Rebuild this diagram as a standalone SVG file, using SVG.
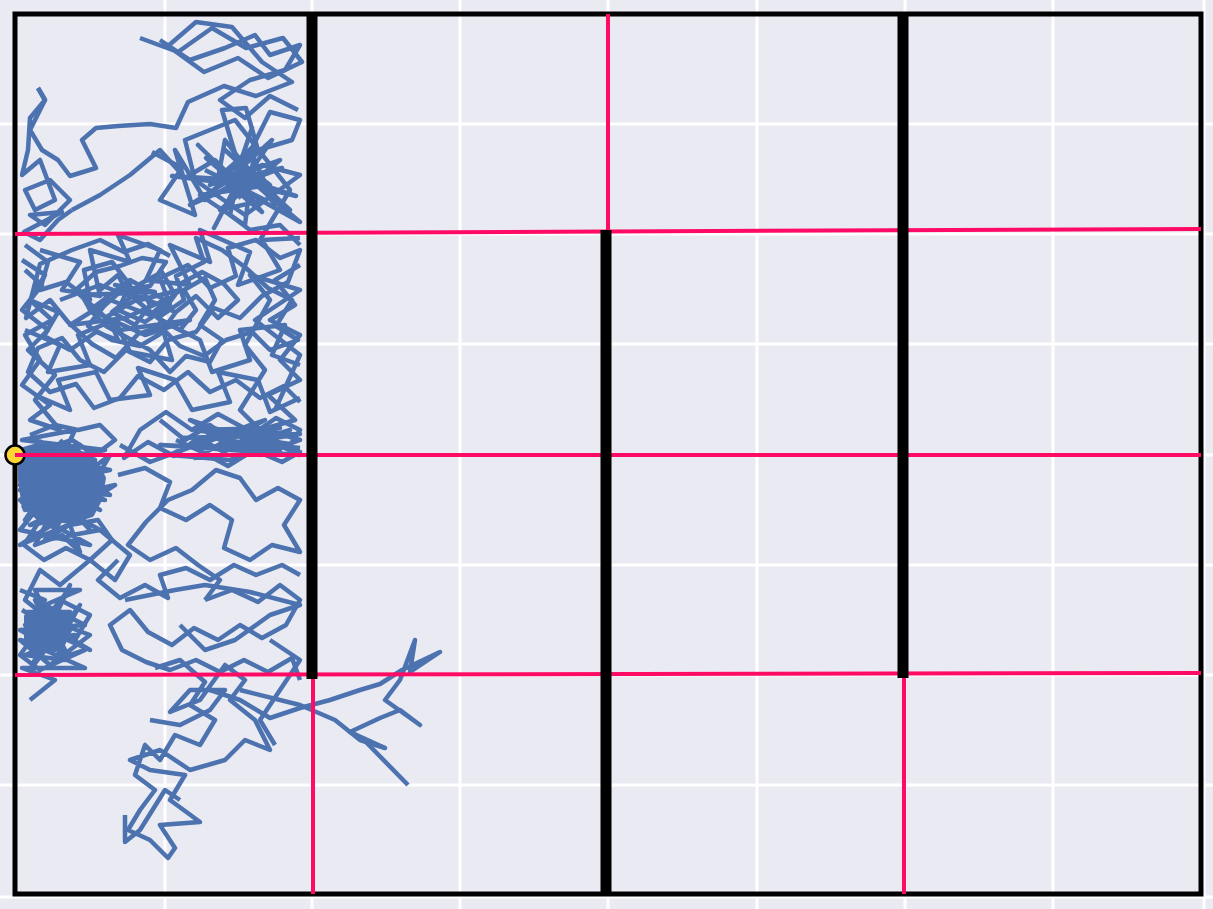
<svg xmlns="http://www.w3.org/2000/svg" width="1213" height="909" viewBox="0 0 1213 909">
<style>
.g{stroke:#ffffff;stroke-width:3}
.w{fill:none;stroke:#4c72b0;stroke-width:4.5;stroke-linejoin:round;stroke-linecap:butt}
.b{fill:#4c72b0;stroke:#4c72b0;stroke-width:4;stroke-linejoin:round}
.r{stroke:#ff0a64;stroke-width:4}
.wall{stroke:#000;stroke-width:11}
</style>
<rect x="0" y="0" width="1213" height="909" fill="#eaeaf2"/>
<g id="grid">
<line class="g" x1="165" y1="0" x2="165" y2="909"/>
<line class="g" x1="312" y1="0" x2="312" y2="909"/>
<line class="g" x1="460" y1="0" x2="460" y2="909"/>
<line class="g" x1="608" y1="0" x2="608" y2="909"/>
<line class="g" x1="757" y1="0" x2="757" y2="909"/>
<line class="g" x1="905" y1="0" x2="905" y2="909"/>
<line class="g" x1="1053" y1="0" x2="1053" y2="909"/>
<line class="g" x1="1204" y1="0" x2="1204" y2="909"/>
<line class="g" x1="0" y1="124" x2="1213" y2="124"/>
<line class="g" x1="0" y1="234" x2="1213" y2="234"/>
<line class="g" x1="0" y1="344" x2="1213" y2="344"/>
<line class="g" x1="0" y1="455" x2="1213" y2="455"/>
<line class="g" x1="0" y1="565" x2="1213" y2="565"/>
<line class="g" x1="0" y1="675" x2="1213" y2="675"/>
<line class="g" x1="0" y1="785" x2="1213" y2="785"/>
<line class="g" x1="0" y1="897" x2="1213" y2="897"/>
</g>
<g id="walk">
<polygon class="b" points="20,450 45,443 72,448 94,460 104,478 100,500 92,515 70,522 44,518 24,508 20,480"/>
<polygon class="b" points="26,616 44,608 62,615 68,632 60,648 40,652 26,642"/>
<polyline class="w" points="140,38 178,52 212,28 246,48 283,38 302,62 268,78 238,58 204,72 168,46 196,22 232,27 262,62 292,82 256,96 224,86 188,102 176,128 150,124 118,126 96,128 82,140 96,168 70,176 58,160 42,150 30,130 45,100 38,88"/>
<polyline class="w" points="160,40 190,60 225,48 255,35 270,55 300,45 285,70 250,80 220,100 245,118 270,96 298,110"/>
<polyline class="w" points="38,88 45,100 30,118 28,150 22,175 40,160 55,200 35,210 25,190 50,180 70,200 45,225 30,215 62,212 24,232 40,240 58,220 72,210"/>
<polyline class="w" points="72,210 100,195 130,175 160,150 185,178 215,160 236,182 198,145 240,186 272,140 232,176 262,212 226,182 190,205 234,186 282,168 240,178 214,228 238,182 296,196 236,176 252,128 233,184 172,176 240,180 206,158 246,192 300,222 262,190 240,170 222,110 246,108 258,150 292,140 300,120 270,112 238,176 230,215 250,230 280,225 300,245"/>
<polyline class="w" points="152,152 182,168 160,200 195,215 175,150 205,200 250,150 275,205 225,140 215,195 262,165 300,175 245,215 195,180 185,140 235,120 290,190 260,240"/>
<polyline class="w" points="205,170 265,200 220,210 280,160 210,185 255,145 245,225 200,195 270,185 225,150 290,210 235,165 250,200 220,178 260,178 238,198"/>
<polyline class="w" points="25,245 48,262 40,290 66,282 90,300 84,270 112,262 130,285 118,310 145,322 170,305 160,278 188,265 210,288 236,276 228,248 256,240 280,258 300,250 288,282 262,296 240,318 214,308 196,332 168,340 150,362 126,350 104,372 80,360 62,338 38,348 28,372 50,392 76,384 94,408 120,398 138,376 164,390 188,372 210,392 236,380 260,398 284,386 300,402"/>
<polyline class="w" points="30,300 58,312 44,336 70,350 96,332 118,340 108,316 136,300 158,318 184,300 176,276 204,262 196,238 222,250 246,268 268,288 292,300 276,326 298,340 270,350 252,332 226,340 204,356 180,346 160,326 138,334 116,358 92,344 68,322 50,300 26,318 40,264 72,250 100,240 124,252 148,244 170,256"/>
<polyline class="w" points="100,290 118,275 130,298 112,312 135,325 150,305 140,284 162,272 175,295 158,318 180,330 196,310 184,290 205,278 215,300 200,325 222,340 210,362 186,356 170,372 150,350 128,338 106,326 90,310 78,288 96,272 120,266 142,258 166,262 150,286 122,290 104,306 88,326 112,340 140,346 160,334 176,312 196,296 218,318 238,300 224,284 202,272 180,284"/>
<polyline class="w" points="60,300 100,285 140,300 180,290 150,315 110,300 70,325 125,318 165,300 130,280 90,310 145,335 190,320 120,330 80,295 155,292 115,285 175,312"/>
<polyline class="w" points="40,250 80,262 62,290 100,296 90,250 130,262 118,235 160,250 146,280 190,285 170,245 210,262 200,230 250,252 238,285 280,270 262,240 300,238"/>
<polyline class="w" points="25,330 60,345 48,372 90,365 78,335 115,320 130,352 172,360 160,320 200,340 212,372 250,360 240,330 285,325 272,355 300,365"/>
<polyline class="w" points="35,395 70,410 58,380 96,372 110,400 150,395 138,368 175,380 192,410 230,402 218,372 258,380 270,412 300,398"/>
<polyline class="w" points="22,260 45,275 30,300 52,320 25,335 40,360 22,385 50,405 30,420 60,430 35,400 55,375 28,350 48,330 22,310 42,285 25,270"/>
<polyline class="w" points="300,265 275,280 295,305 270,320 300,335 280,360 300,380 268,395 295,420 260,430 240,410 265,370 245,345 270,300 250,275 300,290 255,320 300,355 275,410"/>
<polyline class="w" points="160,420 185,440 210,425 235,445 262,432 288,448 300,430 276,418 250,436 224,452 198,438 174,456 148,442 124,458 140,430 166,412 192,430 218,414 244,428 272,444 300,452 282,462 254,450 228,466 202,452 176,440"/>
<polyline class="w" points="200,445 250,425 300,440 260,455 210,435 170,455 230,460 290,430 240,445 190,420 280,450 160,445 300,455 245,430 195,458 265,420 150,462 120,445"/>
<polyline class="w" points="180,438 300,434 210,448 290,444 195,430 280,428 220,440 300,448"/>
<polyline class="w" points="20,455 60,445 30,470 80,460 40,490 95,475 25,500 70,505 30,525 85,515 45,540 100,530 20,485 110,495 50,460 105,450 22,440 75,430 35,515 90,545 20,530 60,480 110,470 30,455 70,470 25,510 65,495 100,510 40,475 85,490 20,470 55,530 95,460 35,440 80,520 20,545 115,485 50,500 90,500 28,492"/>
<polyline class="w" points="22,505 48,520 35,545 62,535 80,552 70,525 98,520 112,540 90,560 66,548 44,560 24,545 40,520 20,500 45,485 70,495 92,480 78,458 55,470 30,480 22,460 48,448 72,440 95,455 115,440 100,425 78,430 55,425 30,435"/>
<polyline class="w" points="60,440 85,470 50,495 105,500 30,465 90,530 40,455 75,515 110,455 25,520 65,460 100,485 35,500 80,445 55,510 20,490 45,470 30,510 70,480 52,455"/>
<polyline class="w" points="118,475 145,468 170,482 160,508 186,520 210,505 232,520 224,548 250,560 272,545 300,552 284,525 300,500 278,488 256,500 240,478 216,470 192,490 168,500 146,522 128,545 150,560 176,548 198,565 220,580 205,600"/>
<polyline class="w" points="205,600 232,590 258,602 280,585 300,600 286,625 262,638 240,625 218,640 194,628 172,645 148,632 130,610 110,625 122,650 146,662 170,670 196,660 220,672 244,660 268,672 292,658 300,680"/>
<polyline class="w" points="118,560 98,580 120,598 145,585 168,598 160,575 186,568 210,580 234,565 256,575 282,565 300,575"/>
<polyline class="w" points="125,600 175,590 205,585 250,592 300,605 270,615 235,640 205,650 180,625"/>
<polyline class="w" points="100,530 130,555 115,580 90,560 60,585 40,570 25,600 50,620 30,640 70,630 55,660 85,650 40,670 20,655 60,600 90,615 75,640 25,625 45,605 80,590 35,590 65,650 20,640 50,665 90,635 28,612 70,612 40,648 85,668 22,668 55,680 30,700"/>
<polyline class="w" points="20,590 45,600 30,620 60,615 40,640 75,635 25,655 65,660 35,600 85,625 20,630 55,650 80,605 30,670 70,585 45,630 90,650 22,610"/>
<polyline class="w" points="155,668 180,660 205,682 190,705 215,720 200,745 175,735 160,760 145,745 135,775 155,790 140,810 128,830 150,840 168,858 175,848 160,825 200,822 170,800 185,775 150,770 130,760 160,750 190,770 225,760 245,740 270,750 255,720 230,700 245,680 225,665 200,700 170,712 190,690 225,690 210,710 180,725 150,720"/>
<polyline class="w" points="210,690 240,700 270,718 300,708 330,700 360,690 380,684 402,670 440,652 410,672 415,640 400,680 385,700 420,725 400,710 380,718 350,732 385,748 362,738 408,785"/>
<polyline class="w" points="240,690 300,705 335,720 360,740 385,748"/>
<polyline class="w" points="270,640 300,660 280,690 260,720 275,745"/>
<polyline class="w" points="125,815 125,842 140,830 165,790 180,800"/>
</g>
<g id="frame">
<rect x="15" y="14" width="1186" height="880" fill="none" stroke="#000" stroke-width="5"/>
</g>
<g id="redlines">
<line class="r" x1="15" y1="234" x2="1201" y2="229"/>
<line class="r" x1="15" y1="455" x2="1201" y2="455"/>
<line class="r" x1="15" y1="675" x2="1201" y2="673"/>
<line class="r" x1="608" y1="14" x2="608" y2="232"/>
<line class="r" x1="313" y1="677" x2="313" y2="894"/>
<line class="r" x1="904" y1="677" x2="904" y2="894"/>
</g>
<g id="walls">
<line class="wall" x1="312" y1="14" x2="312" y2="679"/>
<line class="wall" x1="606" y1="230" x2="606" y2="894"/>
<line class="wall" x1="903" y1="14" x2="903" y2="678"/>
</g>
<g id="start">
<circle cx="15" cy="455" r="9.5" fill="#fdd835" stroke="#000" stroke-width="2.5"/>
<line class="r" x1="15" y1="455" x2="60" y2="455"/>
</g>
</svg>
